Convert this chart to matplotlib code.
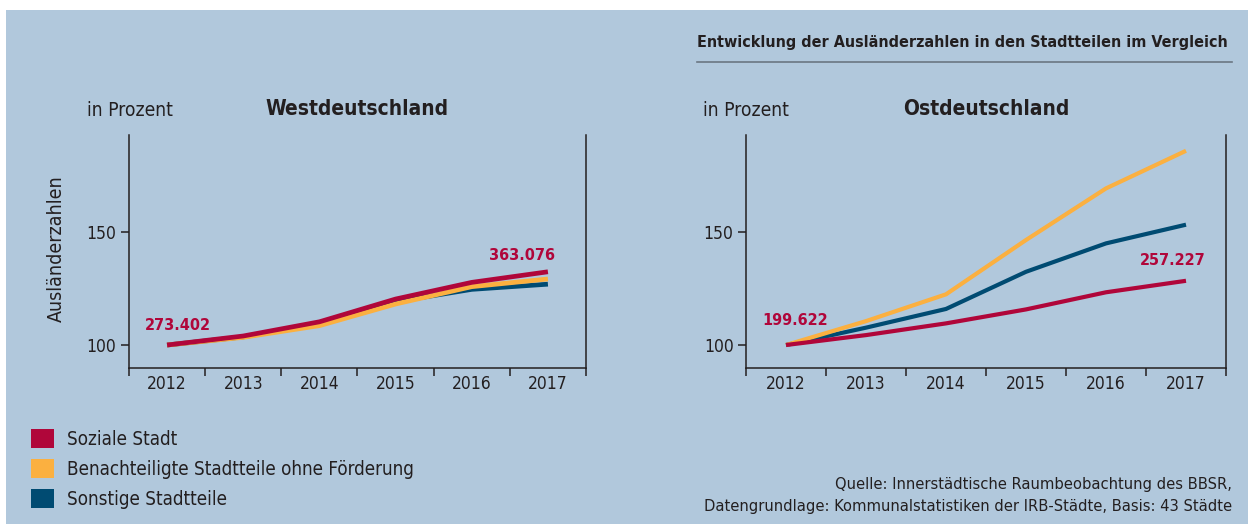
import numpy as np
import matplotlib.pyplot as plt
from matplotlib.patches import Rectangle, Patch

plt.rcParams['font.family'] = ['DejaVu Sans']
plt.rcParams['font.stretch'] = 'condensed'

# data (index 2012 = 100)
years = ['2012', '2013', '2014', '2015', '2016', '2017']
series_names = ['Soziale Stadt', 'Benachteiligte Stadtteile ohne Förderung', 'Sonstige Stadtteile']
colors = ['#b0063a', '#fbb040', '#004b72']

west_soziale = [100, 104.0, 110.3, 120.4, 127.8, 132.5]
west_benachteiligt = [100, 103.4, 108.6, 118.2, 125.9, 129.3]
west_sonstige = [100, 103.6, 109.5, 119.2, 124.7, 127.0]

ost_soziale = [100, 104.4, 109.6, 115.8, 123.4, 128.5]
ost_benachteiligt = [100, 110.6, 122.5, 146.6, 169.5, 186.2]
ost_sonstige = [100, 107.7, 116.0, 132.5, 145.1, 153.4]

west_abs = ['273.402', '363.076']
ost_abs = ['199.622', '257.227']

bg = '#b1c8dc'
dark = '#231f20'

fig = plt.figure(figsize=(12.48, 5.24), dpi=100, facecolor='white')
fig.patches.append(Rectangle((6/1248, 0), 1, 1 - 10/524, transform=fig.transFigure,
                             facecolor=bg, edgecolor='none', zorder=-10))

ax_w = fig.add_axes([129/1248, 1 - 368/524, 457/1248, 233/524])
ax_o = fig.add_axes([746/1248, 1 - 368/524, 480/1248, 233/524])

x = np.arange(len(years))

def style(ax):
    ax.set_facecolor('none')
    ax.set_xlim(-0.5, len(years) - 0.5)
    ax.set_ylim(89.8, 193.2)
    ax.spines['top'].set_visible(False)
    for s in ['left', 'bottom', 'right']:
        ax.spines[s].set_color(dark)
        ax.spines[s].set_linewidth(1.1)
    ax.set_xticks(np.arange(-0.5, len(years)), labels=[])
    ax.set_xticks(x, labels=years, minor=True)
    ax.tick_params(axis='x', which='major', length=6, width=1.1, color=dark)
    ax.tick_params(axis='x', which='minor', length=0, pad=5, labelsize=12.5, labelcolor=dark)
    ax.set_yticks([100, 150])
    ax.tick_params(axis='y', length=6, width=1.1, color=dark, labelsize=12.5, labelcolor=dark, pad=3)

def draw(ax, soz, ben, son, lw):
    ax.plot(x, son, color=colors[2], lw=lw, solid_capstyle='butt', solid_joinstyle='miter')
    ax.plot(x, ben, color=colors[1], lw=lw, solid_capstyle='butt', solid_joinstyle='miter')
    ax.plot(x, soz, color=colors[0], lw=lw, solid_capstyle='butt', solid_joinstyle='miter')

style(ax_w)
style(ax_o)
draw(ax_w, west_soziale, west_benachteiligt, west_sonstige, 3.4)
draw(ax_o, ost_soziale, ost_benachteiligt, ost_sonstige, 3.0)

lab = dict(color=colors[0], fontsize=11.6, fontweight='bold', ha='center', va='center',
           textcoords='offset points')
ax_w.annotate(west_abs[0], (x[0], west_soziale[0]), xytext=(8, 14), **lab)
ax_w.annotate(west_abs[1], (x[-1], west_soziale[-1]), xytext=(-19, 11.5), **lab)
ax_o.annotate(ost_abs[0], (x[0], ost_soziale[0]), xytext=(6.5, 18), **lab)
ax_o.annotate(ost_abs[1], (x[-1], ost_soziale[-1]), xytext=(-9.4, 14.4), **lab)

# panel titles
fig.text(87/1248, 1 - 111/524, 'in Prozent', fontsize=13.8, color=dark, va='center')
fig.text(703/1248, 1 - 111/524, 'in Prozent', fontsize=13.8, color=dark, va='center')
fig.text(357/1248, 1 - 109/524, 'Westdeutschland', fontsize=15, fontweight='bold', color=dark,
         ha='center', va='center')
fig.text(986/1248, 1 - 109/524, 'Ostdeutschland', fontsize=15, fontweight='bold', color=dark,
         ha='center', va='center')
fig.text(56/1248, 1 - 249/524, 'Ausländerzahlen', fontsize=14, color=dark, rotation=90,
         ha='center', va='center')

# header
fig.text(697/1248, 1 - 43/524, 'Entwicklung der Ausländerzahlen in den Stadtteilen im Vergleich',
         fontsize=11.5, fontweight='bold', color=dark, va='center')
fig.add_artist(plt.Line2D([697/1248, 1232/1248], [1 - 62/524, 1 - 62/524],
                          color='#6b7783', lw=1.2, transform=fig.transFigure))

# legend
handles = [Patch(facecolor=c, edgecolor='none') for c in colors]
fig.legend(handles, series_names, loc='upper left', bbox_to_anchor=(23/1248, 1 - 421/524),
           frameon=False, fontsize=13.5, handlelength=1.23, handleheight=1.23,
           handletextpad=0.71, labelspacing=0.53, borderaxespad=0, labelcolor=dark)

# source
fig.text(1232/1248, 1 - 484/524, 'Quelle: Innerstädtische Raumbeobachtung des BBSR,',
         fontsize=11.8, color=dark, ha='right', va='center')
fig.text(1232/1248, 1 - 507/524, 'Datengrundlage: Kommunalstatistiken der IRB-Städte, Basis: 43 Städte',
         fontsize=11.8, color=dark, ha='right', va='center')

fig.savefig('out.png', dpi=100, facecolor=fig.get_facecolor())
